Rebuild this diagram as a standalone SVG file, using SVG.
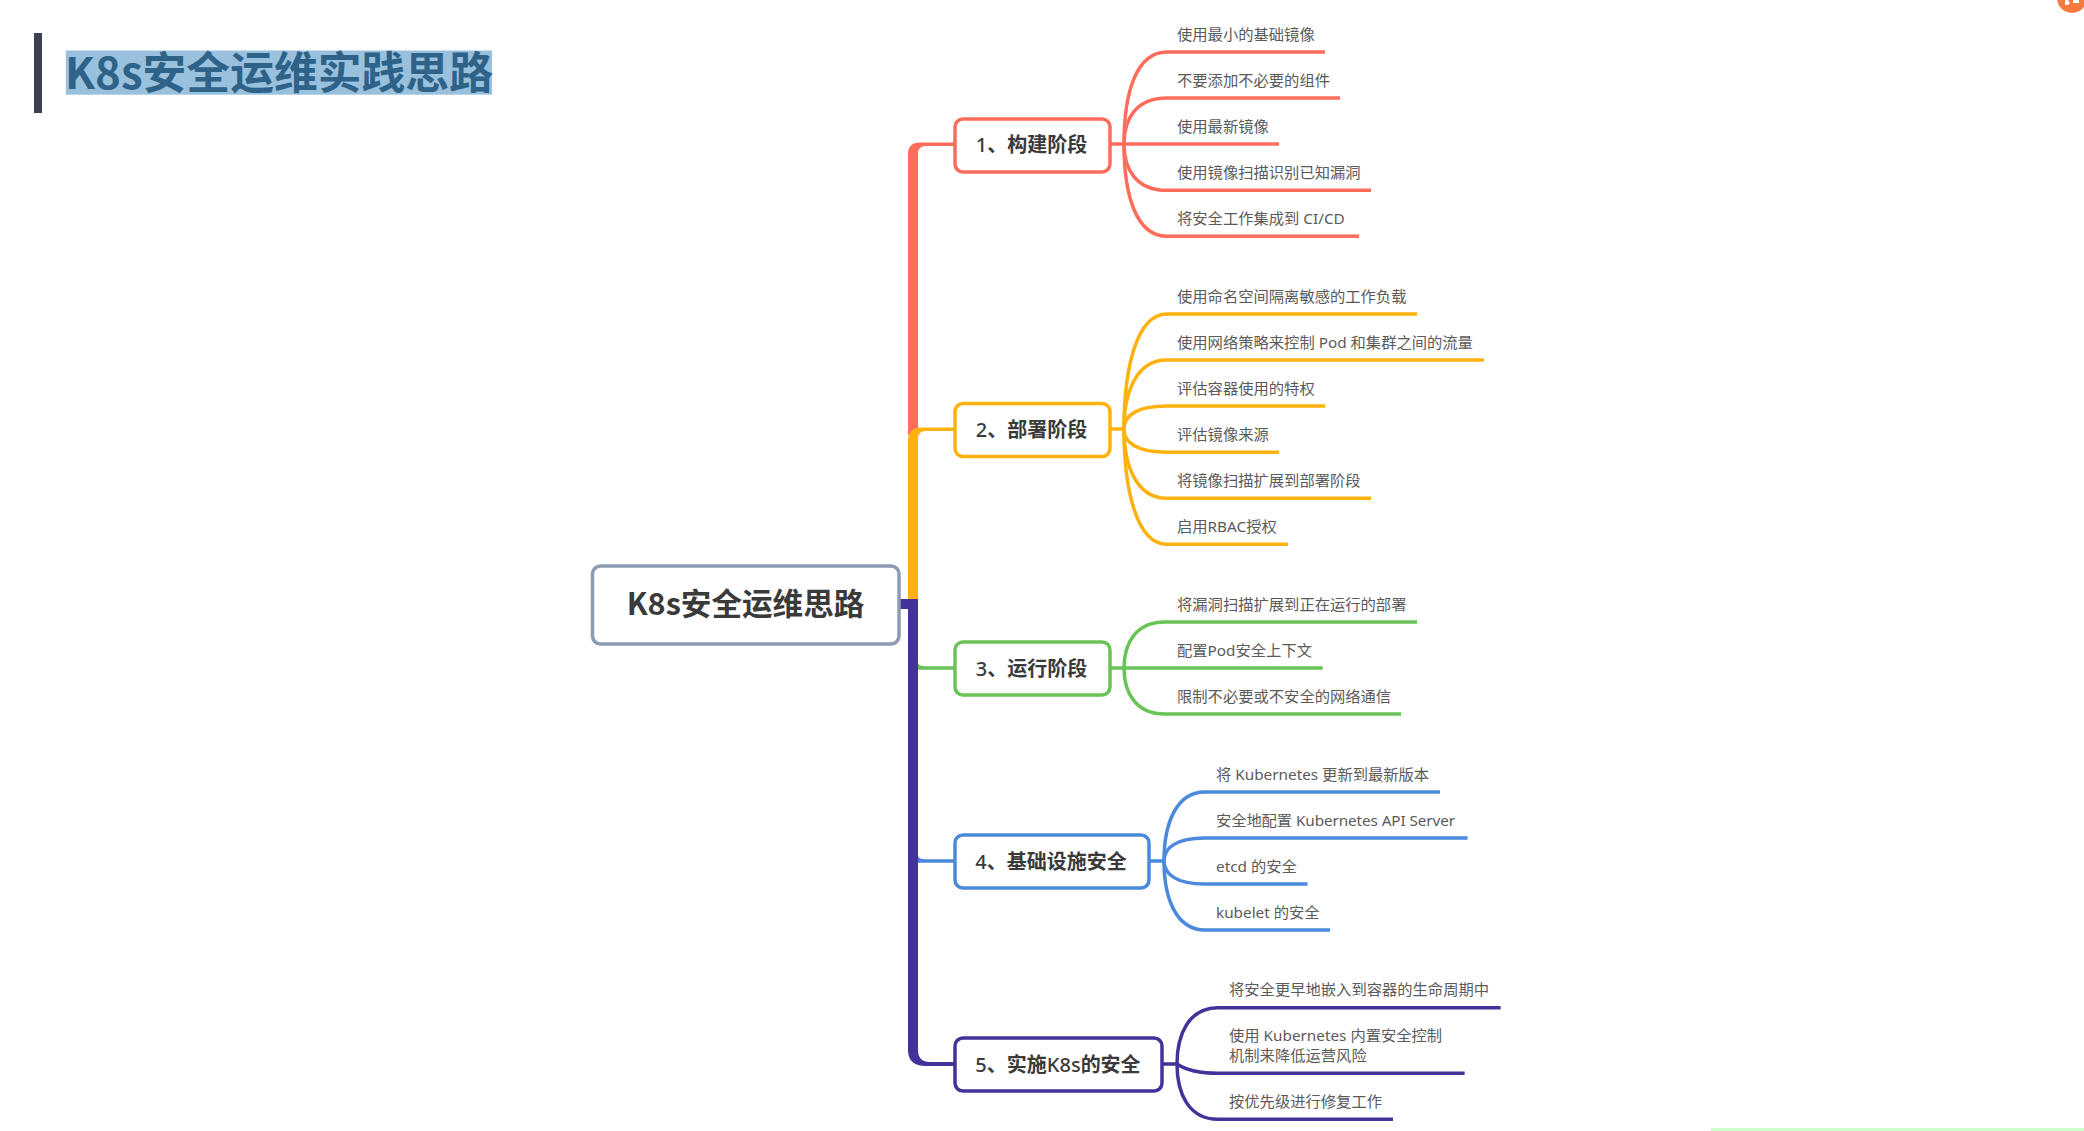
<svg xmlns="http://www.w3.org/2000/svg" width="2084" height="1131" viewBox="0 0 2084 1131">
<style>
text{font-family:"Noto Sans","Noto Sans CJK SC",sans-serif}
.leaf{font-size:15.3px;fill:#5a5a5a}
.head{font-size:20px;font-weight:700;fill:#3a3a3a;text-anchor:middle}
.lat{font-weight:500}
.box{fill:#fff;stroke-width:3.5}
.wire{fill:none;stroke-width:3.5}
.red{stroke:#fe6d5b}.org{stroke:#ffb20f}.grn{stroke:#69c457}.blu{stroke:#4a89dc}.pur{stroke:#43329a}
</style>
<rect width="2084" height="1131" fill="#fff"/>
<g id="title">
<rect x="34" y="33" width="8" height="80" fill="#3e4250"/>
<rect x="65.800" y="50.500" width="426.200" height="44.200" fill="#99c1dd"/>
<text x="65" y="89" font-size="43.800" font-weight="700" fill="#2f6288" style="font-family:'Noto Sans CJK SC',sans-serif">K8s安全运维实践思路</text>
</g>
<g id="connectors">
<path d="M908 435V154Q908 142.500 920 142.500H954V146H926Q918 146 918 154V435Z" fill="#fe6d5b"/>
<path d="M908 602V441Q908 427.500 921 427.500H954V431H926Q918 431 918 439V602Z" fill="#ffb20f"/>
<path d="M899 599H918V1050Q918 1062 930 1062H954V1066H926Q908 1066 908 1050V609H899Z" fill="#43329a"/>
<path d="M918 663Q919 666.200 926 666.200H954V669.700H918Z" fill="#69c457"/>
<path d="M918 856Q919 859.200 926 859.200H954V862.700H918Z" fill="#4a89dc"/>
<g class="red">
<path class="wire" d="M1111 144H1124"/>
<path class="wire" d="M1124 144C1124 93 1136 52 1167 52H1325"/>
<path class="wire" d="M1124 144C1124 119 1136 98 1167 98H1340"/>
<path class="wire" d="M1124 144H1279"/>
<path class="wire" d="M1124 144C1124 169 1136 190.300 1167 190.300H1371"/>
<path class="wire" d="M1124 144C1124 195 1136 236.300 1167 236.300H1359"/>
</g>
<g class="org">
<path class="wire" d="M1110 429H1124"/>
<path class="wire" d="M1124 429C1124 370 1136 314 1167 314H1417"/>
<path class="wire" d="M1124 429C1124 393 1136 360 1167 360H1484"/>
<path class="wire" d="M1124 429C1124 416 1136 406 1167 406H1325"/>
<path class="wire" d="M1124 429C1124 442 1136 452.300 1167 452.300H1279"/>
<path class="wire" d="M1124 429C1124 465 1136 498.300 1167 498.300H1371"/>
<path class="wire" d="M1124 429C1124 488 1136 544.300 1167 544.300H1288"/>
</g>
<g class="grn">
<path class="wire" d="M1110 668H1322.700"/>
<path class="wire" d="M1124 668C1124 643 1136 622 1165 622H1417"/>
<path class="wire" d="M1124 668C1124 693 1136 714 1165 714H1401"/>
</g>
<g class="blu">
<path class="wire" d="M1149 861H1164"/>
<path class="wire" d="M1164 861C1164 824 1176 792 1205 792H1440"/>
<path class="wire" d="M1164 861C1164 848 1176 838 1205 838H1467.600"/>
<path class="wire" d="M1164 861C1164 874 1176 884 1205 884H1307.500"/>
<path class="wire" d="M1164 861C1164 898 1176 930 1205 930H1330"/>
</g>
<g class="pur">
<path class="wire" d="M1162 1064H1177"/>
<path class="wire" d="M1177 1064C1177 1034 1189 1007.700 1218 1007.700H1500.600"/>
<path class="wire" d="M1177 1064C1183 1068 1195 1073.300 1218 1073.300H1464.600"/>
<path class="wire" d="M1177 1064C1177 1094 1189 1119.300 1218 1119.300H1393"/>
</g>
</g>
<g id="root">
<rect x="592.500" y="566" width="306.500" height="78" rx="8" fill="#fff" stroke="#8c9ab2" stroke-width="3.500"/>
<text x="745.500" y="615" font-size="30.600" font-weight="700" fill="#3a3a3a" text-anchor="middle" style="font-family:'Noto Sans CJK SC',sans-serif">K8s安全运维思路</text>
</g>
<g id="node-1">
<rect class="box red" x="955" y="119" width="155" height="53" rx="8"/>
<text class="head" x="1031.500" y="152"><tspan class="lat">1</tspan>、构建阶段</text>
</g>
<g id="node-2">
<rect class="box org" x="955" y="403.500" width="155" height="53" rx="8"/>
<text class="head" x="1031.500" y="437"><tspan class="lat">2</tspan>、部署阶段</text>
</g>
<g id="node-3">
<rect class="box grn" x="955" y="642" width="155" height="53" rx="8"/>
<text class="head" x="1031.500" y="676"><tspan class="lat">3</tspan>、运行阶段</text>
</g>
<g id="node-4">
<rect class="box blu" x="955" y="835" width="194" height="53" rx="8"/>
<text class="head" x="1051" y="869"><tspan class="lat">4</tspan>、基础设施安全</text>
</g>
<g id="node-5">
<rect class="box pur" x="955" y="1038" width="207" height="53" rx="8"/>
<text class="head" x="1058" y="1072"><tspan class="lat">5</tspan>、实施<tspan class="lat">K8s</tspan>的安全</text>
</g>
<g id="leaves-1">
<text class="leaf" x="1177" y="40">使用最小的基础镜像</text>
<text class="leaf" x="1177" y="86">不要添加不必要的组件</text>
<text class="leaf" x="1177" y="132">使用最新镜像</text>
<text class="leaf" x="1177" y="178">使用镜像扫描识别已知漏洞</text>
<text class="leaf" x="1177" y="224">将安全工作集成到 CI/CD</text>
</g>
<g id="leaves-2">
<text class="leaf" x="1177" y="302">使用命名空间隔离敏感的工作负载</text>
<text class="leaf" x="1177" y="348">使用网络策略来控制 Pod 和集群之间的流量</text>
<text class="leaf" x="1177" y="394">评估容器使用的特权</text>
<text class="leaf" x="1177" y="440">评估镜像来源</text>
<text class="leaf" x="1177" y="486">将镜像扫描扩展到部署阶段</text>
<text class="leaf" x="1177" y="532">启用RBAC授权</text>
</g>
<g id="leaves-3">
<text class="leaf" x="1177" y="610">将漏洞扫描扩展到正在运行的部署</text>
<text class="leaf" x="1177" y="656">配置Pod安全上下文</text>
<text class="leaf" x="1177" y="702">限制不必要或不安全的网络通信</text>
</g>
<g id="leaves-4">
<text class="leaf" x="1216" y="780">将 Kubernetes 更新到最新版本</text>
<text class="leaf" x="1216" y="825.500" textLength="239">安全地配置 Kubernetes API Server</text>
<text class="leaf" x="1216" y="872">etcd 的安全</text>
<text class="leaf" x="1216" y="918">kubelet 的安全</text>
</g>
<g id="leaves-5">
<text class="leaf" x="1229" y="995">将安全更早地嵌入到容器的生命周期中</text>
<text class="leaf" x="1229" y="1041">使用 Kubernetes 内置安全控制</text>
<text class="leaf" x="1229" y="1061">机制来降低运营风险</text>
<text class="leaf" x="1229" y="1107">按优先级进行修复工作</text>
</g>
<g id="decor">
<circle cx="2072" cy="-2" r="15" fill="#f47b3e"/>
<path d="M2065 0h3l2 3-2 2h-3M2073 0h6v3h-6z" fill="#fff"/>
<rect x="1711" y="1128" width="373" height="3" fill="#ccffcc"/>
</g>
</svg>
